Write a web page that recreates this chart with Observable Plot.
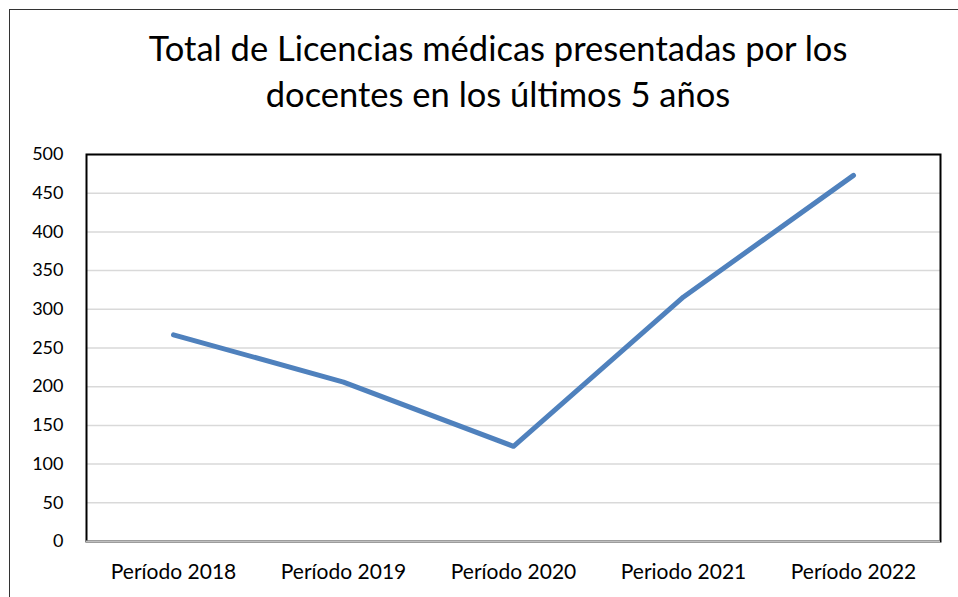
<!DOCTYPE html>
<html>
<head>
<meta charset="utf-8">
<script src="https://cdn.jsdelivr.net/npm/d3@7"></script>
<script src="https://cdn.jsdelivr.net/npm/@observablehq/plot@0.6"></script>
<style>
  html, body { margin: 0; padding: 0; background: #fff; }
  #wrap { position: relative; width: 958px; height: 597px; overflow: hidden; font-family: Lato, "Open Sans", sans-serif; }
  #frame { position: absolute; left: 9px; top: 9px; width: 980px; height: 620px; border-top: 1.5px solid #333; border-left: 1.5px solid #333; box-sizing: border-box; }
  #title { position: absolute; left: 0; top: 25px; width: 996px; text-align: center; font-size: 34.5px; line-height: 46px; color: #000; }
  #chart { position: absolute; left: 0; top: 0; }
  #chart svg g[aria-label="x-axis tick label"] text { font-size: 21px; }
  #chart svg g[aria-label="y-axis tick label"] text { font-size: 18px; }
</style>
</head>
<body>
<div id="wrap">
  <div id="frame"></div>
  <div id="chart"></div>
  <div id="title">Total de Licencias médicas presentadas por los<br>docentes en los últimos 5 años</div>
</div>
<script>
const periods = ["Período 2018", "Período 2019", "Período 2020", "Periodo 2021", "Período 2022"];
const licencias = [267, 206, 123, 316, 473];
const yTicks = [0, 50, 100, 150, 200, 250, 300, 350, 400, 450, 500];

const data = periods.map((p, i) => ({period: p, value: licencias[i]}));

const chart = Plot.plot({
  width: 958,
  height: 597,
  marginTop: 154,
  marginBottom: 56,
  marginLeft: 86,
  marginRight: 18,
  style: {fontFamily: "Lato, 'Open Sans', sans-serif", fontSize: "19px", color: "#000", background: "transparent"},
  x: {type: "point", domain: periods, padding: 0.5, label: null, tickSize: 0, tickPadding: 23},
  y: {domain: [0, 500], ticks: yTicks, label: null, tickSize: 0, tickPadding: 23},
  marks: [
    Plot.gridY(yTicks, {stroke: "#d9d9d9", strokeOpacity: 1, strokeWidth: 1.5}),
    Plot.frame({stroke: "#000", strokeWidth: 2}),
    Plot.ruleY([0], {stroke: "#bfbfbf", strokeWidth: 2}),
    Plot.line(data, {x: "period", y: "value", stroke: "#4f81bd", strokeWidth: 5, strokeLinecap: "round", strokeLinejoin: "round"})
  ]
});
document.getElementById("chart").appendChild(chart);
</script>
</body>
</html>
